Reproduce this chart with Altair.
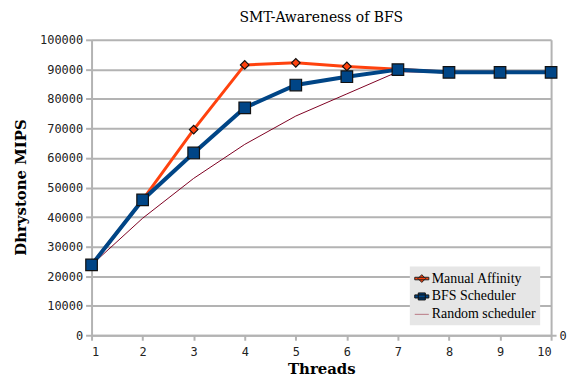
import altair as alt
import pandas as pd

threads = [1, 2, 3, 4, 5, 6, 7, 8, 9, 10]
manual = [23800, 45800, 69600, 91500, 92200, 91000, 90000, 89000, 89000, 89000]
bfs = [23800, 45800, 61700, 77000, 84700, 87500, 89900, 89000, 89000, 89000]
rand = [23800, 39600, 53100, 64600, 74200, 81700, 89200, 89000, 89000, 89000]
series = ["Manual Affinity", "BFS Scheduler", "Random scheduler"]
colors = ["#ff420e", "#004586", "#7e0021"]

rows = []
for name, vals in zip(series, [manual, bfs, rand]):
    for t, v in zip(threads, vals):
        rows.append({"Threads": t, "MIPS": v, "Series": name})
df = pd.DataFrame(rows)

x = alt.X("Threads:Q", scale=alt.Scale(domain=[1, 10], nice=False, zero=False),
          axis=alt.Axis(values=threads, grid=False, title="Threads", titleY=38,
                        titleBaseline="alphabetic", labelPadding=6, tickSize=5))
yscale = alt.Scale(domain=[0, 100000], nice=False)
y = alt.Y("MIPS:Q", scale=yscale,
          axis=alt.Axis(values=list(range(0, 100001, 10000)), grid=True, format="d",
                        title="Dhrystone MIPS", titleX=-71, titleY=148,
                        titleBaseline="middle", tickSize=6, labelPadding=3))


def line(i, width):
    return alt.Chart(df).transform_filter(alt.datum.Series == series[i]).mark_line(
        strokeWidth=width, color=colors[i]).encode(
        x=x, y=y, order=alt.Order("Threads:Q"),
    )


def pts(i, shape, size):
    return alt.Chart(df).transform_filter(alt.datum.Series == series[i]).mark_point(
        filled=True, opacity=1, shape=shape, size=size, fill=colors[i],
        stroke="#111", strokeWidth=1.2).encode(x=x, y=y)


leg_diamond = "M-1,-0.18H1V0.18H-1Z M0,-0.55L0.55,0L0,0.55L-0.55,0Z"
leg_square = "M-1,-0.22H1V0.22H-1Z M-0.5,-0.5H0.5V0.5H-0.5Z"
leg_line = "M-1,0H1"

legend_layer = alt.Chart(df).transform_filter(alt.datum.Series == "__none__").mark_point(
    filled=True, opacity=1, strokeWidth=1).encode(
    x=x, y=y,
    fill=alt.Fill("Series:N", scale=alt.Scale(domain=series, range=colors),
                  legend=alt.Legend(title=None, orient="none", legendX=320, legendY=228,
                                    fillColor="#e6e6e6", padding=4, rowPadding=3,
                                    symbolSize=200, labelOffset=2, symbolStrokeWidth=1,
                                    labelFont="Liberation Serif", labelFontSize=14,
                                    labelColor="#000")),
    stroke=alt.Stroke("Series:N", scale=alt.Scale(domain=series, range=["#222", "#111", "#b87a85"])),
    shape=alt.Shape("Series:N", scale=alt.Scale(domain=series, range=[leg_diamond, leg_square, leg_line])),
)

main = alt.layer(
    line(2, 1),
    line(0, 3),
    line(1, 4),
    pts(0, "diamond", 75),
    pts(1, "square", 135),
    legend_layer,
)

right = alt.Chart(pd.DataFrame({"MIPS": [0]})).mark_point(opacity=0).encode(
    y=alt.Y("MIPS:Q", scale=yscale,
            axis=alt.Axis(orient="right", values=[0], grid=False, title=None, tickSize=5,
                          labelPadding=3, format="d")),
)

chart = alt.layer(main, right).resolve_axis(y="independent").properties(
    width=462, height=297,
    title=alt.Title("SMT-Awareness of BFS", font="DejaVu Serif", fontSize=14,
                    fontWeight="normal", color="#000", offset=9, anchor="middle"),
    autosize=alt.AutoSizeParams(type="none"),
    padding={"left": 84, "top": 31, "right": 18, "bottom": 41},
).configure_view(stroke=None).configure_axis(
    domainColor="#b3b3b3", domainWidth=2, tickColor="#b3b3b3", tickWidth=2,
    gridColor="#b3b3b3", gridWidth=2, labelFont="DejaVu Sans Mono", labelFontSize=12,
    labelColor="#222", titleFont="DejaVu Serif", titleFontSize=15, titleFontWeight="bold",
    titleColor="#000",
).configure_legend(
    labelFont="Liberation Serif", labelFontSize=14, labelColor="#000",
)

chart.save("out.html", embed_options={"renderer": "svg", "actions": False})
